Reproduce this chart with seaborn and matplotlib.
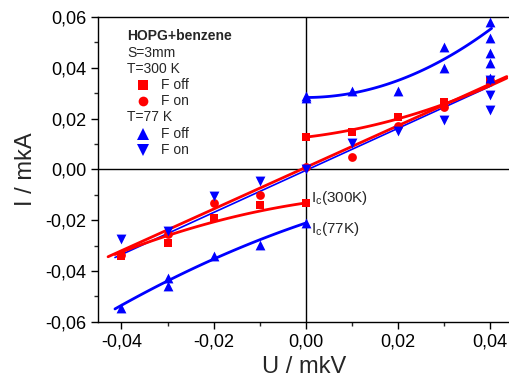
import numpy as np
import pandas as pd
import matplotlib
matplotlib.use("Agg")
import matplotlib.pyplot as plt
import seaborn as sns
from matplotlib.ticker import MultipleLocator, FuncFormatter

# ---- data (U in mkV, I in mkA) ----
u_300_off = [-0.04, -0.03, -0.02, -0.01, 0.00, 0.00, 0.01, 0.02, 0.03, 0.04]
i_300_off = [-0.034, -0.0291, -0.0193, -0.0141, -0.0132, 0.0127, 0.0146, 0.0208, 0.0267, 0.0349]
u_300_on = [-0.04, -0.03, -0.02, -0.01, 0.00, 0.01, 0.02, 0.03, 0.04]
i_300_on = [-0.0338, -0.0255, -0.0132, -0.0102, 0.0008, 0.0048, 0.0169, 0.0247, 0.0352]
u_77_off = [-0.04, -0.03, -0.03, -0.02, -0.01, 0.00, 0.00, 0.00, 0.01, 0.02, 0.03, 0.03,
            0.04, 0.04, 0.04, 0.04, 0.04]
i_77_off = [-0.0546, -0.0429, -0.0458, -0.034, -0.0298, -0.0211, 0.0288, 0.028, 0.031, 0.031,
            0.048, 0.0399, 0.058, 0.0519, 0.0458, 0.0418, 0.0358]
u_77_on = [-0.04, -0.03, -0.02, -0.01, 0.00, 0.01, 0.02, 0.03, 0.04, 0.04, 0.04]
i_77_on = [-0.0275, -0.0243, -0.0106, -0.0046, 0.0, 0.0105, 0.0153, 0.0195, 0.0353, 0.0293, 0.0235]

# fitted curves: (x range, polynomial coefficients highest power first)
fit_300_off_neg = ([-0.0414, 0.0], [-5.39, 0.267, -0.0132])
fit_300_off_pos = ([0.0, 0.0436], [7.31, 0.214, 0.0127])
fit_77_off_neg = ([-0.0414, 0.0], [-4.97, 0.611, -0.0211])
fit_77_off_pos = ([0.0, 0.0403], [16.75, 0.0, 0.0283])
fit_300_lin = ([-0.0429, 0.0436], [0.82, 0.0008])
fit_77_lin = ([-0.0414, 0.0405], [0.828, -0.0004])

xticks = [-0.04, -0.02, 0.00, 0.02, 0.04]
yticks = [-0.06, -0.04, -0.02, 0.00, 0.02, 0.04, 0.06]

RED = "#ff0000"
BLUE = "#0000ff"

sns.set_style("ticks")
plt.rcParams["font.family"] = ["Liberation Sans", "DejaVu Sans"]
plt.rcParams["mathtext.fontset"] = "custom"
plt.rcParams["mathtext.rm"] = "Liberation Sans"
plt.rcParams["mathtext.it"] = "Liberation Sans:italic"
plt.rcParams["mathtext.bf"] = "Liberation Sans:bold"

fig = plt.figure(figsize=(5.10, 3.85), dpi=100)
ax = fig.add_axes([0.192, 0.164, 0.808, 0.792])

def curve(spec, color, lw):
    (x0, x1), coefs = spec
    xs = np.linspace(x0, x1, 100)
    ys = np.polyval(coefs, xs)
    sns.lineplot(x=xs, y=ys, ax=ax, color=color, lw=lw, sort=False, estimator=None, zorder=2)

curve(fit_77_lin, BLUE, 1.2)
curve(fit_300_lin, RED, 2.0)
curve(fit_300_off_neg, RED, 2.0)
curve(fit_300_off_pos, RED, 2.0)
curve(fit_77_off_neg, BLUE, 2.0)
curve(fit_77_off_pos, BLUE, 2.0)

sns.scatterplot(x=u_300_off, y=i_300_off, ax=ax, marker="s", color=RED, s=36, linewidth=0, zorder=3)
sns.scatterplot(x=u_300_on, y=i_300_on, ax=ax, marker="o", color=RED, s=40, linewidth=0, zorder=3)
sns.scatterplot(x=u_77_off, y=i_77_off, ax=ax, marker="^", color=BLUE, s=50, linewidth=0, zorder=3)
sns.scatterplot(x=u_77_on, y=i_77_on, ax=ax, marker="v", color=BLUE, s=50, linewidth=0, zorder=3)

ax.axhline(0, color="black", lw=1.0, zorder=1)
ax.axvline(0, color="black", lw=1.0, zorder=1)

ax.set_xlim(-0.0451, 0.0443)
ax.set_ylim(-0.06, 0.06)
ax.set_xticks(xticks)
ax.set_yticks(yticks)
ax.xaxis.set_minor_locator(MultipleLocator(0.01))
ax.yaxis.set_minor_locator(MultipleLocator(0.01))
fmt = FuncFormatter(lambda v, p: f"{v:.2f}".replace(".", ",").replace("-0,00", "0,00"))
ax.xaxis.set_major_formatter(fmt)
ax.yaxis.set_major_formatter(fmt)
ax.tick_params(which="major", direction="out", length=5, width=1, labelsize=13, colors="black")
ax.tick_params(which="minor", direction="out", length=3, width=1)
for s in ["left", "bottom", "top"]:
    ax.spines[s].set_linewidth(1.0)
    ax.spines[s].set_color("black")
ax.spines["right"].set_visible(False)

ax.set_xlabel("U / mkV", fontsize=17, labelpad=4)
ax.set_ylabel("I / mkA", fontsize=17, labelpad=6)

# legend-like text block
def tx(px, py, s, **kw):
    x, y = fig.transFigure.inverted().transform((px, 385 - py))
    fig.text(x, y, s, va="center", ha="left", fontsize=10, **kw)

def mk(px, py, m, c, size):
    x, y = fig.transFigure.inverted().transform((px, 385 - py))
    fig.add_artist(plt.Line2D([x], [y], marker=m, color=c, markersize=size, linestyle="none",
                              markeredgewidth=0, transform=fig.transFigure))

tx(127, 36, "HOPG+benzene", fontweight="bold")
tx(127, 53, "S=3mm")
tx(127, 69, "T=300 K")
mk(143, 85, "s", RED, 6.5)
tx(161, 85, "F off")
mk(143, 101, "o", RED, 7)
tx(161, 101, "F on")
tx(127, 117, "T=77 K")
mk(143, 134, "^", BLUE, 8)
tx(161, 134, "F off")
mk(143, 150, "v", BLUE, 8)
tx(161, 150, "F on")

ax.text(0.0012, -0.0112, r"I$_\mathregular{c}$(300K)", fontsize=11, ha="left", va="center")
ax.text(0.0012, -0.0235, r"I$_\mathregular{c}$(77K)", fontsize=11, ha="left", va="center")

fig.savefig("out.png", dpi=100)
